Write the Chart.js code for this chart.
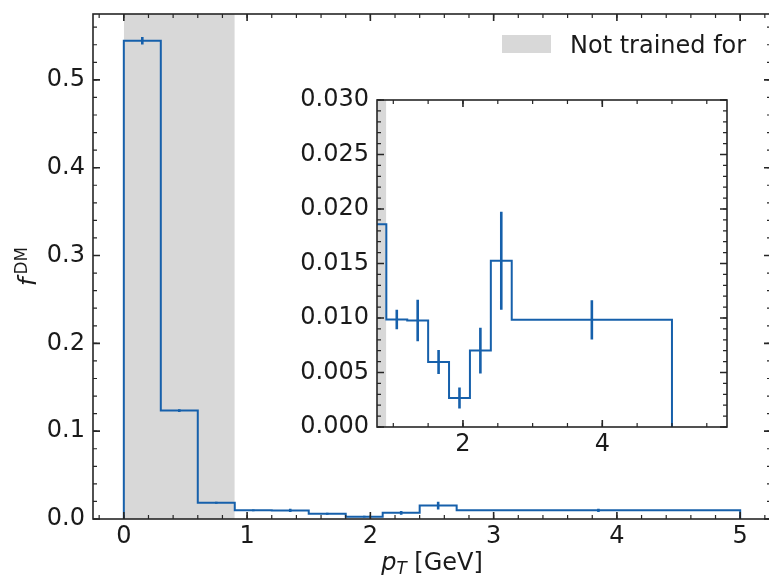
<!DOCTYPE html>
<html><head><meta charset="utf-8">
<script src="https://cdn.jsdelivr.net/npm/chart.js@4.4.1/dist/chart.umd.min.js"></script>
<style>
html,body{margin:0;padding:0;width:769px;height:577px;overflow:hidden;background:#fff;}
#main{position:absolute;left:0;top:0;}
#inset{position:absolute;left:280px;top:80px;}
</style></head><body>
<canvas id="main" width="790" height="577"></canvas>
<canvas id="inset" width="470" height="390"></canvas>
<script>
// ---- data ----
const binEdges = [0, 0.3, 0.6, 0.9, 1.2, 1.5, 1.8, 2.1, 2.4, 2.7, 5.0];
const fDM      = [0.5445, 0.1234, 0.0186, 0.00986, 0.00977, 0.00597, 0.00266, 0.00701, 0.01525, 0.00983];
const fDMErr   = [0.0042, 0.0015, 0.0011, 0.0009, 0.0019, 0.0011, 0.00097, 0.0021, 0.0045, 0.0018];
const notTrainedRange = [0, 0.9];
const mainXTicks  = [0, 1, 2, 3, 4, 5];
const mainYTicks  = [0.0, 0.1, 0.2, 0.3, 0.4, 0.5];
const insetXTicks = [2, 4];
const insetYTicks = [0.000, 0.005, 0.010, 0.015, 0.020, 0.025, 0.030];
const legendLabel = 'Not trained for';

// ---- styles ----
const LINE = '#1660ab';
const GREY = '#d8d8d8';
const INK = '#1a1a1a';
const FRAME = '#262626';
const FONT = 'DejaVu Sans';
const TICKFONT = 24;

// step outline points (histtype step)
function stepPoints() {
  const pts = [{x: binEdges[0], y: 0}];
  for (let i = 0; i < fDM.length; i++) pts.push({x: binEdges[i], y: fDM[i]});
  const last = binEdges[binEdges.length - 1];
  pts.push({x: last, y: fDM[fDM.length - 1]});
  pts.push({x: last, y: 0});
  return pts;
}
function errPoints() {
  const pts = [];
  for (let i = 0; i < fDM.length; i++) {
    const c = (binEdges[i] + binEdges[i + 1]) / 2;
    pts.push({x: c, y: fDM[i] - fDMErr[i]}, {x: c, y: fDM[i] + fDMErr[i]}, {x: c, y: null});
  }
  return pts;
}
function bandPoints() {
  return [{x: notTrainedRange[0], y: 10}, {x: notTrainedRange[1], y: 10}];
}
function datasets() {
  return [
    {data: bandPoints(), borderWidth: 0, pointRadius: 0, fill: 'origin', backgroundColor: GREY, order: 3},
    {data: stepPoints(), stepped: 'before', borderColor: LINE, borderWidth: 2, pointRadius: 0, fill: false, order: 1, borderJoinStyle: 'miter'},
    {data: errPoints(), borderColor: LINE, borderWidth: 2.6, pointRadius: 0, fill: false, spanGaps: false, order: 0, borderCapStyle: 'butt'}
  ];
}

function rangeVals(min, max, step) {
  const out = [];
  const s = Math.ceil(min / step - 1e-9);
  for (let k = s; k * step <= max + 1e-12; k++) out.push(k * step);
  return out;
}

function frameTicks(cfg) {
  return {
    id: 'frameTicks',
    beforeDraw(chart) {
      const {ctx, chartArea: a} = chart;
      ctx.save();
      ctx.fillStyle = '#ffffff';
      ctx.fillRect(a.left, a.top, a.right - a.left, a.bottom - a.top);
      ctx.restore();
    },
    afterDraw(chart) {
      const {ctx, chartArea: a, scales: {x, y}} = chart;
      ctx.save();
      ctx.strokeStyle = FRAME;
      const drawX = (vals, len, lw) => {
        ctx.lineWidth = lw; ctx.beginPath();
        vals.forEach(v => { if (v < x.min || v > x.max) return; const p = x.getPixelForValue(v);
          ctx.moveTo(p, a.bottom); ctx.lineTo(p, a.bottom - len); ctx.moveTo(p, a.top); ctx.lineTo(p, a.top + len); });
        ctx.stroke();
      };
      const drawY = (vals, len, lw) => {
        ctx.lineWidth = lw; ctx.beginPath();
        vals.forEach(v => { if (v < y.min || v > y.max) return; const p = y.getPixelForValue(v);
          ctx.moveTo(a.left, p); ctx.lineTo(a.left + len, p); ctx.moveTo(a.right, p); ctx.lineTo(a.right - len, p); });
        ctx.stroke();
      };
      drawX(rangeVals(x.min, x.max, cfg.xMinor), 4, 1.2);
      drawX(rangeVals(x.min, x.max, cfg.xMajor), 7, 1.6);
      drawY(rangeVals(y.min, y.max, cfg.yMinor), 4, 1.2);
      drawY(rangeVals(y.min, y.max, cfg.yMajor), 7, 1.6);
      ctx.lineWidth = 1.6;
      ctx.strokeRect(a.left, a.top, a.right - a.left, a.bottom - a.top);
      ctx.restore();
    }
  };
}

const labelsPlugin = {
  id: 'labels',
  afterDraw(chart) {
    const {ctx, chartArea: a} = chart;
    ctx.save();
    // legend
    ctx.fillStyle = GREY;
    ctx.fillRect(502, 35, 49, 18);
    ctx.fillStyle = INK;
    ctx.font = `${TICKFONT}px "${FONT}"`;
    ctx.textBaseline = 'alphabetic';
    ctx.textAlign = 'left';
    ctx.fillText(legendLabel, 570, 52.5);
    // x label: p_T [GeV]
    const pF = `italic ${TICKFONT}px "${FONT}"`, sF = `italic ${TICKFONT * 0.7}px "${FONT}"`, nF = `${TICKFONT}px "${FONT}"`;
    ctx.font = pF; const wp = ctx.measureText('p').width;
    ctx.font = sF; const wt = ctx.measureText('T').width;
    ctx.font = nF; const wr = ctx.measureText(' [GeV]').width;
    const cx = (a.left + a.right) / 2;
    let xx = cx - (wp + wt + wr) / 2;
    const by = 570;
    ctx.font = pF; ctx.fillText('p', xx, by); xx += wp;
    ctx.font = sF; ctx.fillText('T', xx, by + 4); xx += wt;
    ctx.font = nF; ctx.fillText(' [GeV]', xx, by);
    // y label: f^DM
    const fF = `italic ${TICKFONT}px "${FONT}"`, dF = `${TICKFONT * 0.7}px "${FONT}"`;
    ctx.font = fF; const wf = ctx.measureText('f').width + 3;
    ctx.font = dF; const wd = ctx.measureText('DM').width;
    ctx.translate(36, (a.top + a.bottom) / 2);
    ctx.rotate(-Math.PI / 2);
    let u = -(wf + wd) / 2;
    ctx.font = fF; ctx.fillText('f', u, 0); u += wf;
    ctx.font = dF; ctx.fillText('DM', u, -9);
    ctx.restore();
  }
};

function tickFmt(d) { return v => Number(v).toFixed(d); }

function axisOpts(min, max, ticksArr, decimals, fitSize, isX, pad) {
  return {
    type: 'linear', min, max,
    grid: {display: false, drawTicks: false},
    border: {display: false},
    afterBuildTicks: s => { s.ticks = ticksArr.map(v => ({value: v})); },
    afterFit: s => {
      if (isX) s.height = fitSize; else s.width = fitSize;
      s.paddingTop = 0; s.paddingBottom = 0; s.paddingLeft = 0; s.paddingRight = 0;
    },
    ticks: {color: INK, font: {family: FONT, size: TICKFONT}, padding: pad,
            callback: tickFmt(decimals), maxRotation: 0, autoSkip: false, includeBounds: false}
  };
}

Chart.defaults.animation = false;

new Chart(document.getElementById('main'), {
  type: 'line',
  data: {datasets: datasets()},
  options: {
    responsive: false, animation: false, devicePixelRatio: 1,
    layout: {padding: {left: 0, top: 14, right: 19, bottom: 0}},
    plugins: {legend: {display: false}, tooltip: {enabled: false}},
    scales: {
      x: axisOpts(-0.25, 5.25, mainXTicks, 0, 58, true, 3),
      y: axisOpts(0, 0.575, mainYTicks, 1, 93, false, 8)
    }
  },
  plugins: [frameTicks({xMajor: 1, xMinor: 0.2, yMajor: 0.1, yMinor: 0.02}), labelsPlugin]
});

new Chart(document.getElementById('inset'), {
  type: 'line',
  data: {datasets: datasets()},
  options: {
    responsive: false, animation: false, devicePixelRatio: 1,
    layout: {padding: {left: 0, top: 20, right: 23, bottom: 0}},
    plugins: {legend: {display: false}, tooltip: {enabled: false}},
    scales: {
      x: axisOpts(0.766, 5.79, insetXTicks, 0, 43, true, 3),
      y: axisOpts(0, 0.030, insetYTicks, 3, 97, false, 8)
    }
  },
  plugins: [frameTicks({xMajor: 2, xMinor: 0.5, yMajor: 0.005, yMinor: 0.001})]
});
</script>
</body></html>
